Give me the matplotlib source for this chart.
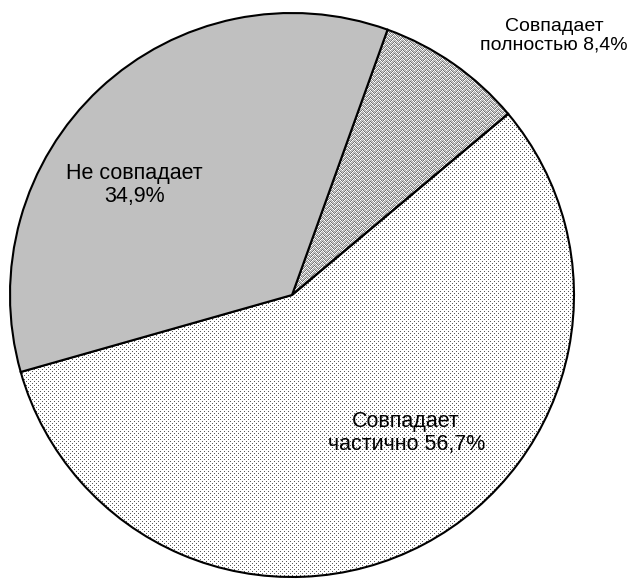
import matplotlib
matplotlib.use('Agg')
import matplotlib.pyplot as plt
import numpy as np

# доли ответов, %
labels = ['Совпадает\nполностью 8,4%', 'Совпадает\nчастично 56,7%', 'Не совпадает\n34,9%']
values = [8.4, 56.7, 34.9]
fills = ['zigzag', 'dots', '#c0c0c0']
# положение и размер подписей (в единицах радиуса)
label_pos = [(0.93, 0.92), (0.405, -0.49), (-0.56, 0.39)]
label_size = [14, 15.5, 15.5]

plt.rcParams['font.family'] = ['Liberation Sans', 'DejaVu Sans']

W, H = 632, 580
fig = plt.figure(figsize=(W / 100, H / 100), dpi=100)
# круг: центр ~ (292, 295) px, радиус ~282 px
R = 282
cx, cy = 292, 295
ax = fig.add_axes([(cx - R) / W, (H - cy - R) / H, 2 * R / W, 2 * R / H])

wedges, _ = ax.pie(values, startangle=70.2, counterclock=False,
                   wedgeprops=dict(edgecolor='black', linewidth=1.5))
ax.set_xlim(-1, 1)
ax.set_ylim(-1, 1)
ax.set_aspect('equal')
ax.axis('off')


def texture(kind, n):
    i, j = np.mgrid[0:n, 0:n]
    img = np.ones((n, n))
    if kind == 'dots':
        mask = ((i % 4 == 0) & (j % 4 == 0)) | ((i % 4 == 2) & (j % 4 == 2))
        img[mask] = 0.35
    else:
        tri = np.abs((j % 8) - 4)
        ph = (i + tri) % 4
        img = np.choose(ph, [0.45, 1.0, 0.65, 0.8])
    return img


n = 2 * R
for w, f in zip(wedges, fills):
    if f in ('dots', 'zigzag'):
        im = ax.imshow(texture(f, n), cmap='gray', vmin=0, vmax=1,
                       extent=(-1, 1, -1, 1), interpolation='nearest', zorder=0)
        im.set_clip_path(w)
        w.set_facecolor('none')
    else:
        w.set_facecolor(f)

for lab, (x, y), fs in zip(labels, label_pos, label_size):
    ax.text(x, y, lab, ha='center', va='center', fontsize=fs,
            linespacing=1.15, clip_on=False)

fig.savefig('out.png', dpi=100)
